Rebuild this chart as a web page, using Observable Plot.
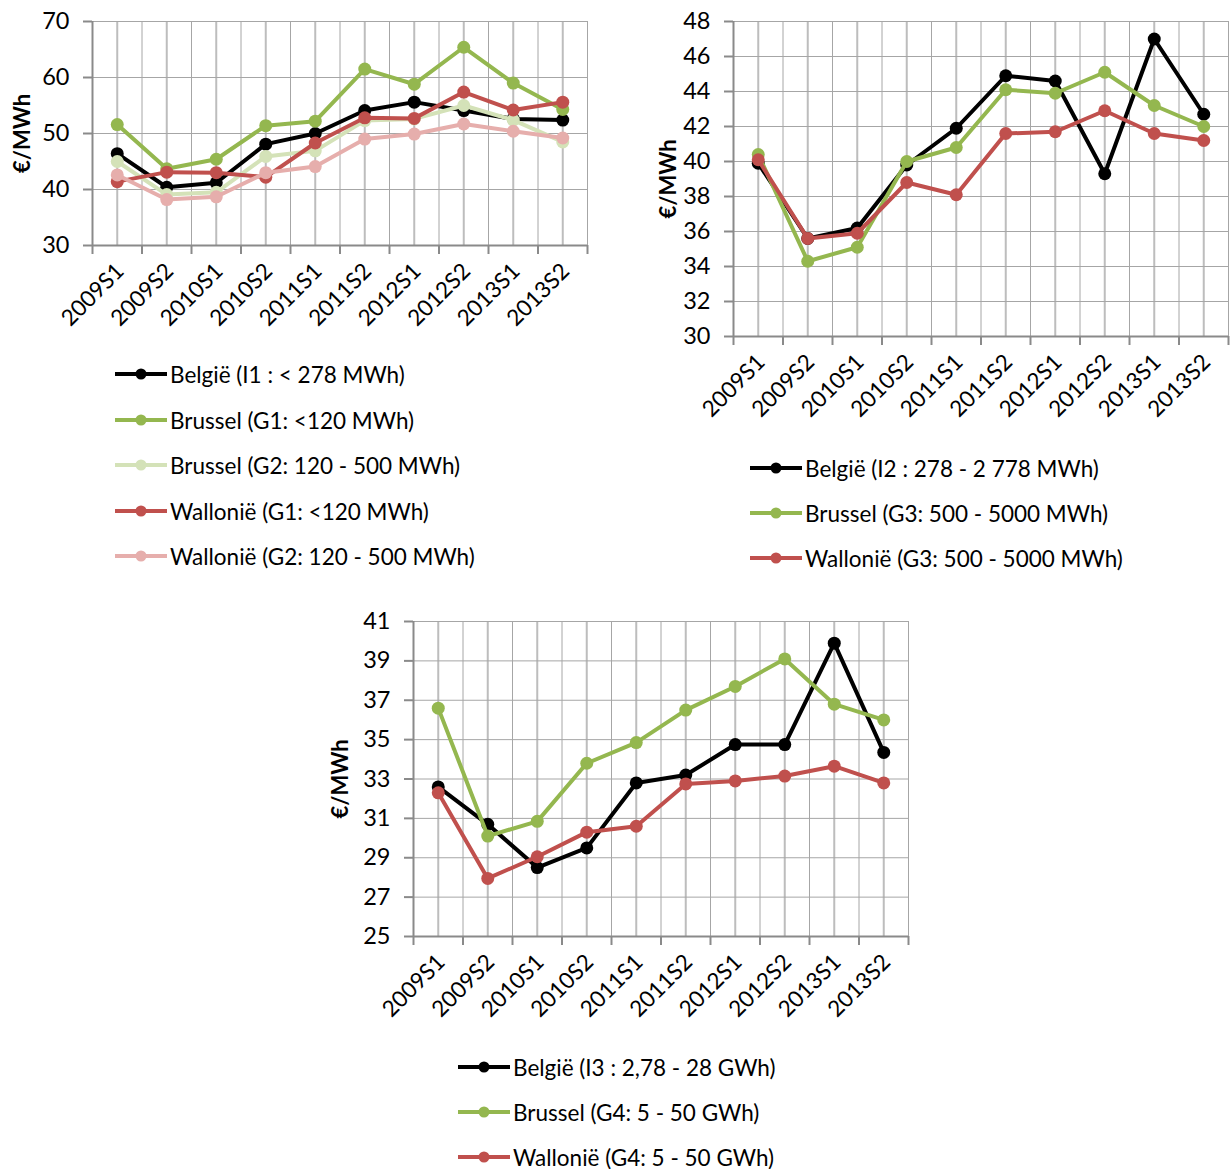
<!DOCTYPE html>
<html><head><meta charset="utf-8">
<script src="https://cdn.jsdelivr.net/npm/d3@7"></script>
<script src="https://cdn.jsdelivr.net/npm/@observablehq/plot@0.6"></script>
<style>
body{margin:0;background:#fff;}
#root{position:relative;width:1231px;height:1169px;font-family:Lato,sans-serif;overflow:hidden;}
.chart{position:absolute;}
.leg{position:absolute;display:flex;align-items:center;height:30px;font-size:22.5px;color:#000;white-space:nowrap;font-family:Lato,sans-serif;}
.leg svg{display:block;margin-right:3px;}
</style></head><body><div id="root"></div>
<script>
// Categories (x axis)
const cats = ["2009S1","2009S2","2010S1","2010S2","2011S1","2011S2","2012S1","2012S2","2013S1","2013S2"];

// Chart 1 series
const be1  = [46.4, 40.4, 41.2, 48.1, 50.0, 54.1, 55.6, 54.1, 52.6, 52.4];
const bru1 = [51.6, 43.7, 45.4, 51.4, 52.2, 61.5, 58.8, 65.4, 59.0, 54.3];
const bru2 = [45.0, 39.1, 39.5, 45.9, 46.9, 52.3, 52.6, 55.0, 52.4, 48.5];
const wal1 = [41.4, 43.1, 43.0, 42.2, 48.3, 52.8, 52.7, 57.4, 54.2, 55.6];
const wal2 = [42.6, 38.2, 38.7, 43.0, 44.1, 49.0, 49.9, 51.7, 50.4, 49.2];

// Chart 2 series
const be2  = [39.9, 35.6, 36.2, 39.8, 41.9, 44.9, 44.6, 39.3, 47.0, 42.7];
const bru3 = [40.4, 34.3, 35.1, 40.0, 40.8, 44.1, 43.9, 45.1, 43.2, 42.0];
const wal3 = [40.1, 35.6, 35.9, 38.8, 38.1, 41.6, 41.7, 42.9, 41.6, 41.2];

// Chart 3 series
const be3  = [32.6, 30.7, 28.5, 29.5, 32.8, 33.2, 34.75, 34.75, 39.9, 34.35];
const bru4 = [36.6, 30.1, 30.85, 33.8, 34.85, 36.5, 37.7, 39.1, 36.8, 36.0];
const wal4 = [32.3, 27.95, 29.05, 30.3, 30.6, 32.75, 32.9, 33.15, 33.65, 32.8];

// Y ticks
const yTicks1 = [30, 40, 50, 60, 70];
const yTicks2 = [30, 32, 34, 36, 38, 40, 42, 44, 46, 48];
const yTicks3 = [25, 27, 29, 31, 33, 35, 37, 39, 41];

// Legend labels
const labels1 = ["België (I1 : < 278 MWh)", "Brussel (G1: <120 MWh)", "Brussel (G2: 120 - 500 MWh)", "Wallonië (G1: <120 MWh)", "Wallonië (G2: 120 - 500 MWh)"];
const labels2 = ["België (I2 : 278 - 2 778 MWh)", "Brussel (G3: 500 - 5000 MWh)", "Wallonië (G3: 500 - 5000 MWh)"];
const labels3 = ["België (I3 : 2,78 - 28 GWh)", "Brussel (G4: 5 - 50 GWh)", "Wallonië (G4: 5 - 50 GWh)"];

const BLACK = "#000000", GREEN = "#94b74f", LGREEN = "#d4e2b8", RED = "#c0504d", PINK = "#e6aeac";
const yLabel = "€/MWh";

const root = document.getElementById("root");

function chart(o) {
  const idx = cats.map((_, i) => i);
  const bounds = d3.range(0, 11).map(i => i - 0.5);
  const marks = [
    Plot.gridX(idx, {stroke: "#bdbdbd", strokeWidth: 2, strokeOpacity: 1}),
    Plot.gridX(bounds, {stroke: "#a6a6a6", strokeWidth: 1, strokeOpacity: 1}),
    Plot.gridY(o.yTicks, {stroke: "#a6a6a6", strokeWidth: 1, strokeOpacity: 1}),
    Plot.ruleY([o.yDomain[0]], {stroke: "#8a8a8a", strokeWidth: 2}),
    Plot.ruleX([-0.5], {stroke: "#8a8a8a", strokeWidth: 2}),
    Plot.axisY(o.yTicks, {tickSize: 9, tickPadding: 14, stroke: "#8a8a8a", strokeWidth: 2, fontSize: 23.5, fill: "#000", label: null}),
    Plot.axisX(bounds, {tickSize: 9, stroke: "#8a8a8a", strokeWidth: 2, tickFormat: () => "", label: null}),
    Plot.axisX(idx, {tickSize: 0, tickRotate: -45, tickPadding: 22, dx: 3, tickFormat: i => cats[i], fontSize: 22.5, fill: "#000", label: null}),
    Plot.text([yLabel], {frameAnchor: "left", textAnchor: "middle", rotate: -90, dx: o.labelDx, fontWeight: "bold", fontSize: 22, fill: "#000"})
  ];
  for (const s of o.series) {
    marks.push(Plot.line(s.values, {x: (d, i) => i, y: d => d, stroke: s.color, strokeWidth: 4, strokeLinejoin: "round"}));
    marks.push(Plot.dot(s.values, {x: (d, i) => i, y: d => d, fill: s.color, r: 6.5}));
  }
  const svg = Plot.plot({
    width: o.width, height: o.height,
    marginLeft: o.mL, marginRight: o.mR, marginTop: o.mT, marginBottom: o.mB,
    x: {domain: [-0.5, 9.5], axis: null},
    y: {domain: o.yDomain, axis: null},
    style: {fontFamily: "Lato, sans-serif", color: "#000", background: "transparent", overflow: "visible"},
    marks
  });
  svg.classList.add("chart");
  svg.style.left = o.left + "px";
  svg.style.top = o.top + "px";
  root.appendChild(svg);

  // legend
  o.series.forEach((s, k) => {
    const row = document.createElement("div");
    row.className = "leg";
    row.style.left = o.legX + "px";
    row.style.top = (o.legY[k] - 15) + "px";
    row.innerHTML = `<svg width="52" height="30"><line x1="0" x2="52" y1="15" y2="15" stroke="${s.color}" stroke-width="4"/><circle cx="26" cy="15" r="5.5" fill="${s.color}"/></svg><span>${s.label}</span>`;
    root.appendChild(row);
  });
}

chart({
  series: [
    {values: be1, color: BLACK, label: labels1[0]},
    {values: bru1, color: GREEN, label: labels1[1]},
    {values: bru2, color: LGREEN, label: labels1[2]},
    {values: wal1, color: RED, label: labels1[3]},
    {values: wal2, color: PINK, label: labels1[4]}
  ],
  yDomain: [30, 70], yTicks: yTicks1,
  left: 0, top: 0, width: 600, height: 340, mL: 92, mR: 13, mT: 21, mB: 95, labelDx: -70,
  legX: 115, legY: [374, 420, 465, 511, 556]
});

chart({
  series: [
    {values: be2, color: BLACK, label: labels2[0]},
    {values: bru3, color: GREEN, label: labels2[1]},
    {values: wal3, color: RED, label: labels2[2]}
  ],
  yDomain: [30, 48], yTicks: yTicks2,
  left: 600, top: 0, width: 631, height: 420, mL: 133, mR: 3, mT: 21, mB: 84, labelDx: -65,
  legX: 750, legY: [468, 513, 558]
});

chart({
  series: [
    {values: be3, color: BLACK, label: labels3[0]},
    {values: bru4, color: GREEN, label: labels3[1]},
    {values: wal4, color: RED, label: labels3[2]}
  ],
  yDomain: [25, 41], yTicks: yTicks3,
  left: 320, top: 600, width: 600, height: 430, mL: 93, mR: 12, mT: 21, mB: 94, labelDx: -73,
  legX: 458, legY: [1067, 1112, 1157]
});
</script>
</body></html>
